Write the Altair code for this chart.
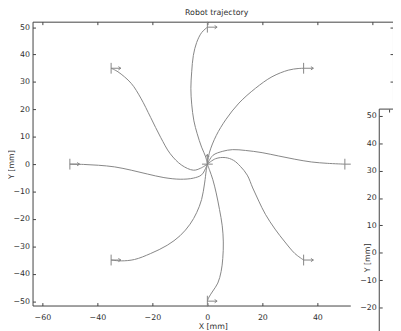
import altair as alt
import pandas as pd

# ---------------- data (mm) ----------------
e_x = [0, 2.0, 5.6, 9.2, 13.9, 19.9, 25.8, 31.8, 37.8, 43.6, 50]
e_y = [0, 3.2, 4.7, 5.3, 5.0, 4.2, 3.0, 1.8, 0.8, 0.3, 0]
ne_x = [0, 0.8, 3.2, 6.8, 11.5, 17.5, 23.5, 29.4, 33.0, 35]
ne_y = [0, 4.4, 10.4, 16.4, 22.3, 27.7, 31.9, 34.3, 34.9, 35]
n_x = [0, -0.6, -2.1, -3.7, -4.9, -5.7, -6.0, -5.7, -5.1, -3.9, -2.1, 0]
n_y = [0, 2.6, 6.2, 11.1, 15.8, 21.9, 27.7, 33.7, 39.7, 44.4, 48.0, 50]
nw_x = [0, -2.5, -5.1, -9.3, -13.5, -17.0, -20.6, -24.2, -27.7, -32.5, -35]
nw_y = [0, -1.5, -2.2, -0.4, 3.8, 9.8, 17.0, 24.1, 29.5, 33.7, 35]
w_x = [0, -0.4, -2.1, -5.1, -9.9, -15.8, -21.8, -27.7, -33.7, -39.6, -45.0, -50]
w_y = [0, -1.0, -3.9, -5.1, -5.5, -4.9, -3.6, -2.2, -1.0, -0.4, -0.1, 0]
sw_x = [0, -0.4, -1.0, -2.1, -3.9, -6.3, -9.9, -14.6, -20.6, -26.5, -31.3, -35]
sw_y = [0, -2.2, -6.9, -12.9, -17.7, -21.9, -26.1, -29.6, -32.6, -34.8, -35.3, -35]
s_x = [0, 0.8, 2.0, 3.2, 4.4, 5.4, 5.8, 5.6, 5.0, 3.8, 2.0, 0.6, 0]
s_y = [0, -2.2, -5.7, -10.5, -16.5, -22.5, -28.4, -34.4, -39.2, -43.4, -46.3, -48.5, -50]
se_x = [0, 3.0, 6.5, 9.5, 12.0, 14.5, 16.5, 18.7, 21.1, 24.6, 28.2, 31.8, 35]
se_y = [0, 2.0, 2.4, 1.4, -0.8, -4.0, -8.7, -13.5, -18.3, -23.7, -28.4, -32.6, -35]

# robot poses: start and the eight goals (heading in degrees, CCW from +x)
start_x = [0]
start_y = [0]
start_heading = [90]
goal_x = [50, 35, 0, -35, -50, -35, 0, 35]
goal_y = [0, 35, 50, 35, 0, -35, -50, -35]
goal_heading = [0, 0, 0, 0, 0, 0, 0, 0]

x_labels = [-60, -40, -20, 0, 20, 40]
x_ticks = [-60, -40, -20, 0, 20, 40, 60]
y_ticks = [-50, -40, -30, -20, -10, 0, 10, 20, 30, 40, 50]
inset_ticks = [-20, -10, 0, 10, 20, 30, 40, 50]
inset_y_span = [52.5, -52.5]
inset_x_span = [-63.57, 67.5]

# ---------------- tables ----------------
rows = []
for name, xs_, ys_ in [("E", e_x, e_y), ("NE", ne_x, ne_y), ("N", n_x, n_y),
                       ("NW", nw_x, nw_y), ("W", w_x, w_y), ("SW", sw_x, sw_y),
                       ("S", s_x, s_y), ("SE", se_x, se_y)]:
    for i, (xv, yv) in enumerate(zip(xs_, ys_)):
        rows.append({"traj": name, "i": i, "x": xv, "y": yv})
paths = pd.DataFrame(rows)

poses = pd.DataFrame({
    "x": start_x + goal_x,
    "y": start_y + goal_y,
    "heading": start_heading + goal_heading,
})
poses["angle"] = (360 - poses["heading"]) % 360

inset_df = pd.DataFrame({"top": [inset_y_span[0]], "bottom": [inset_y_span[1]],
                         "left": [inset_x_span[0]], "right": [inset_x_span[1]]})

# ---------------- style ----------------
FONT = "DejaVu Sans"
AX = "#404040"
TXT = "#303030"
LINE = "#858585"
inward = {"expr": "-3"}
POSE = "M0,-1L0,1M0,0L1.8,0M1.35,-0.3L1.8,0L1.35,0.3"

X_DOM = [-63.57, 67.5]
Y_DOM = [-51.6, 52.0]


def main_x():
    return alt.Scale(domain=X_DOM, nice=False, zero=False)


def main_y():
    return alt.Scale(domain=Y_DOM, nice=False, zero=False)


curves = alt.Chart(paths).mark_line(
    color=LINE, strokeWidth=1, interpolate="catmull-rom"
).encode(
    x=alt.X("x:Q", scale=main_x(),
            axis=alt.Axis(orient="bottom", values=x_labels, title="X [mm]",
                          tickSize=inward, labelPadding=11, titlePadding=1,
                          domain=False, grid=False)),
    y=alt.Y("y:Q", scale=main_y(),
            axis=alt.Axis(orient="left", values=y_ticks, title="Y [mm]",
                          tickSize=inward, labelPadding=6,
                          titleX=-21, titleY=145, titleBaseline="middle",
                          domain=False, grid=False)),
    detail="traj:N",
    order="i:Q",
)

markers = alt.Chart(poses).mark_point(
    shape=POSE, size=121, filled=False, color=LINE, strokeWidth=1, opacity=1
).encode(
    x=alt.X("x:Q", scale=main_x(),
            axis=alt.Axis(orient="top", values=x_ticks, labels=False, title=None,
                          tickSize=inward, domain=False, grid=False)),
    y=alt.Y("y:Q", scale=main_y(),
            axis=alt.Axis(orient="right", values=y_ticks, labels=False, title=None,
                          tickSize=inward, domain=False, grid=False)),
    angle=alt.Angle("angle:Q", scale=None),
)

# the overlapping second figure (its white page and frame)
cover = alt.Chart(alt.Data(values=[{"a": 1}])).mark_rect(
    fill="white", strokeWidth=0
).encode(
    x=alt.value(324), x2=alt.value(500), y=alt.value(82), y2=alt.value(420)
)

inset = alt.Chart(inset_df).mark_rect(
    fill="white", fillOpacity=0, stroke=AX, strokeWidth=1
).encode(
    x=alt.X("left:Q",
            scale=alt.Scale(domain=X_DOM, range=[353, 720], nice=False, zero=False),
            axis=alt.Axis(orient="top", offset=-89, values=x_ticks, labels=False,
                          title=None, tickSize=inward, domain=False, grid=False,
                          zindex=1)),
    x2="right:Q",
    y=alt.Y("top:Q",
            scale=alt.Scale(domain=[-52.5, 52.5], range=[381.5, 89], nice=False, zero=False),
            axis=alt.Axis(orient="left", offset=-353, values=inset_ticks, title="Y [mm]",
                          titleX=-12, titleY=240, titleBaseline="middle",
                          tickSize=inward, labelPadding=6,
                          domain=False, grid=False, zindex=1)),
    y2="bottom:Q",
)

chart = alt.layer(curves, markers, cover, inset).resolve_scale(
    x="independent", y="independent"
).resolve_axis(
    x="independent", y="independent"
).properties(
    width=367, height=289,
    autosize=alt.AutoSizeParams(type="none"),
    padding={"left": 25, "top": 11, "right": 0, "bottom": 23},
    title=alt.TitleParams("Robot trajectory", fontSize=8, font=FONT,
                          fontWeight="normal", color=TXT, offset=3, dx=4),
).configure_view(
    stroke=AX, strokeWidth=1
).configure_axis(
    labelFont=FONT, labelFontSize=8, labelColor=TXT,
    titleFont=FONT, titleFontSize=8, titleFontWeight="normal", titleColor=TXT,
    tickColor=AX, domainColor=AX,
)

chart.save("out.html", embed_options={"renderer": "svg", "actions": False})
